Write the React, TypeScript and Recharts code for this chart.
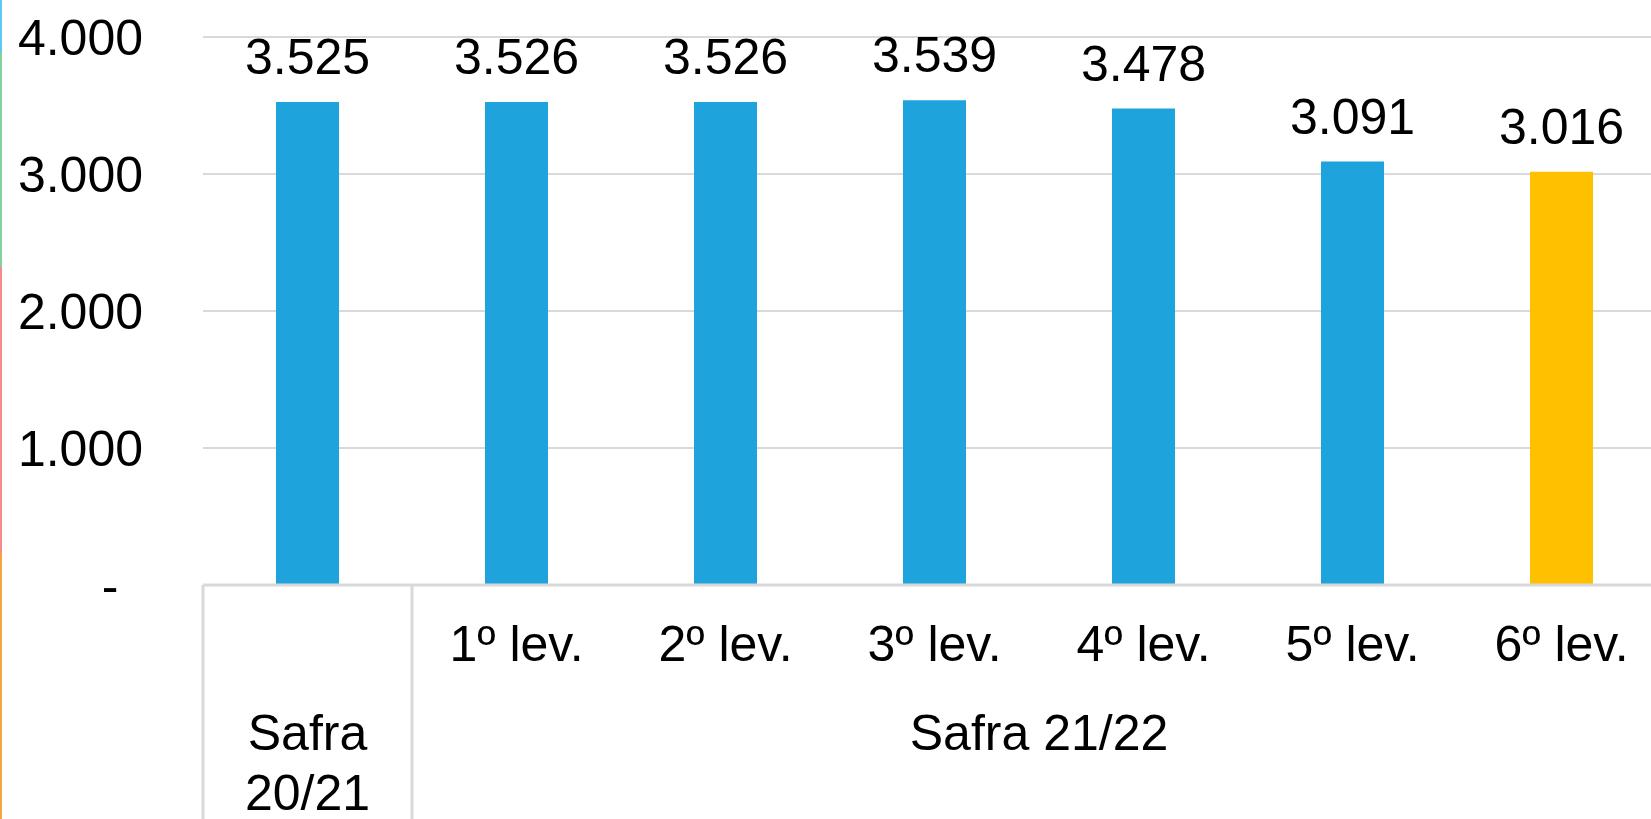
import { Bar, BarChart, CartesianGrid, Cell, LabelList, XAxis, YAxis } from "recharts";

const levantamentos = ["Safra 20/21", "1º lev.", "2º lev.", "3º lev.", "4º lev.", "5º lev.", "6º lev."];
const safras = ["Safra 20/21", "Safra 21/22", "Safra 21/22", "Safra 21/22", "Safra 21/22", "Safra 21/22", "Safra 21/22"];
const produtividade = [3525, 3526, 3526, 3539, 3478, 3091, 3016];
const yTicks = [0, 1000, 2000, 3000, 4000];
const destaque = "6º lev.";

const data = levantamentos.map((lev, i) => ({ lev, safra: safras[i], produtividade: produtividade[i] }));

const font = "'Liberation Sans', Arial, sans-serif";
const fmt = (v: number) => (v === 0 ? "-" : String(v).replace(/\B(?=(\d{3})+(?!\d))/g, "."));

const YTick = ({ x, y, payload }: any) => (
  <text x={payload.value === 0 ? x - 33 : x} y={y} dy="0.36em" textAnchor={payload.value === 0 ? "middle" : "end"} fontSize={50} fill="#000" fontFamily={font}>
    {fmt(payload.value)}
  </text>
);

// tick x positions, filled while ticks render in order
const xs: number[] = [];

const CategoryTick = ({ x, y, index }: any) => {
  xs[index] = x;
  const row = data[index];
  const inner = row.lev === row.safra ? null : <text x={x} y={y + 76} textAnchor="middle" fontSize={50} fill="#000" fontFamily={font}>{row.lev}</text>;
  const last = index === data.length - 1 || data[index + 1].safra !== row.safra;
  if (!last) return <g>{inner}</g>;
  let first = index;
  while (first > 0 && data[first - 1].safra === row.safra) first--;
  const center = (xs[first] + x) / 2;
  const words = row.safra.split(" ");
  const outer = first === index
    ? words.map((w, k) => <text key={k} x={center} y={y + 165 + k * 60} textAnchor="middle" fontSize={50} fill="#000" fontFamily={font}>{w}</text>)
    : <text x={center} y={y + 165} textAnchor="middle" fontSize={50} fill="#000" fontFamily={font}>{row.safra}</text>;
  const lines = [];
  if (index === data.length - 1) {
    const half = (xs[1] - xs[0]) / 2;
    data.forEach((d, k) => {
      if (k === 0 || data[k - 1].safra !== d.safra) {
        const lx = xs[k] - half;
        lines.push(<line key={k} x1={lx} x2={lx} y1={y} y2={y + 260} stroke="#d9d9d9" strokeWidth={3} />);
      }
    });
    lines.push(<line key="end" x1={x + half} x2={x + half} y1={y} y2={y + 260} stroke="#d9d9d9" strokeWidth={3} />);
  }
  return <g>{inner}{outer}{lines}</g>;
};

export default function App() {
  return (
    <div style={{ position: "fixed", left: 0, top: 0, width: 1651, height: 819, overflow: "hidden", background: "#fff" }}>
      <div style={{ position: "absolute", left: 0, top: 0, width: 2, height: 52, background: "#5bc8f5" }} />
      <div style={{ position: "absolute", left: 0, top: 52, width: 2, height: 215, background: "#86d0a0" }} />
      <div style={{ position: "absolute", left: 0, top: 267, width: 2, height: 286, background: "#f28b8b" }} />
      <div style={{ position: "absolute", left: 0, top: 553, width: 2, height: 266, background: "#f5a540" }} />
      <BarChart width={1680} height={819} data={data} margin={{ top: 37, right: 14, left: 0, bottom: 0 }} barCategoryGap={0}>
        <CartesianGrid vertical={false} stroke="#d9d9d9" strokeWidth={2} />
        <XAxis dataKey="lev" height={234} tick={<CategoryTick />} tickLine={false} tickSize={0} tickMargin={0} interval={0} axisLine={{ stroke: "#d9d9d9", strokeWidth: 3 }} />
        <YAxis width={203} domain={[0, 4000]} ticks={yTicks} tick={<YTick />} tickLine={false} tickSize={0} tickMargin={60} axisLine={false} interval={0} />
        <Bar dataKey="produtividade" barSize={63} isAnimationActive={false}>
          {data.map((d) => <Cell key={d.lev} fill={d.lev === destaque ? "#ffc000" : "#1fa3dc"} />)}
          <LabelList dataKey="produtividade" position="top" offset={28} formatter={(v: any) => fmt(Number(v))} style={{ fontSize: 50, fill: "#000", fontFamily: font }} />
        </Bar>
      </BarChart>
    </div>
  );
}
